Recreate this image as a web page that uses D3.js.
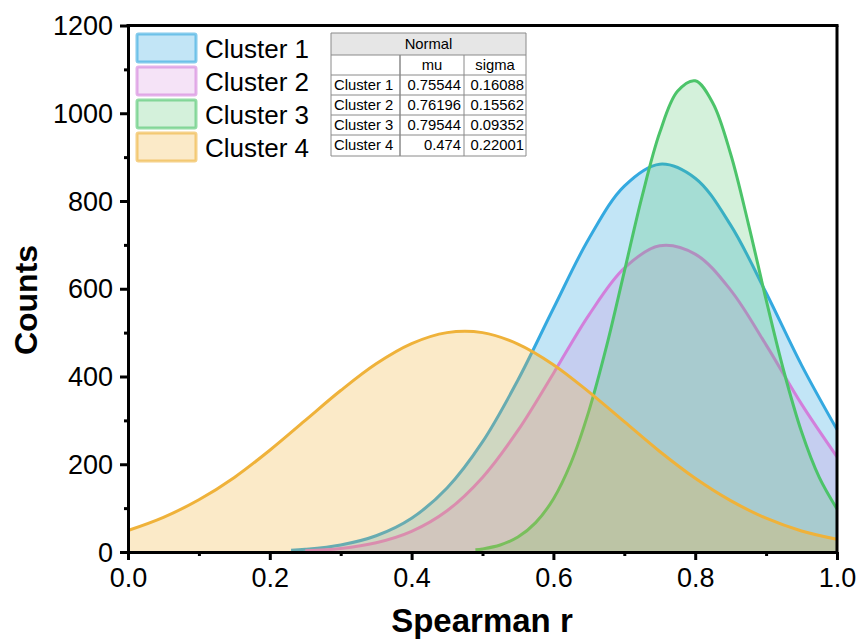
<!DOCTYPE html>
<html><head><meta charset="utf-8">
<script src="https://cdn.jsdelivr.net/npm/d3@7"></script>
<style>
body{margin:0;background:#fff;}
svg{display:block;font-family:"Liberation Sans",Arial,sans-serif;}
</style>
</head><body>
<svg id="c" width="862" height="643"></svg>
<script>
// ---- data ----
const seriesNames = ["Cluster 1", "Cluster 2", "Cluster 3", "Cluster 4"];

const c1X = [0.23,0.25,0.30,0.35,0.40,0.45,0.50,0.55,0.60,0.65,0.70,0.75,0.80,0.85,0.90,0.95,1.00];
const c1Y = [4,6,16,37,77,146,251,392,555,714,834,884,852,745,591,426,279];

const c2X = [0.25,0.30,0.35,0.40,0.45,0.50,0.55,0.60,0.65,0.70,0.75,0.80,0.85,0.90,0.95,1.00];
const c2Y = [3,8,21,47,94,170,277,407,540,647,698,679,597,472,337,217];

const c3X = [0.49,0.50,0.525,0.55,0.575,0.60,0.625,0.65,0.675,0.70,0.725,0.75,0.775,0.80,0.825,0.85,0.875,0.90,0.925,0.95,0.975,1.00];
const c3Y = [5,7,16,34,67,121,204,321,469,639,810,956,1050,1074,1023,907,748,575,412,274,170,98];

const c4X = [0.00,0.05,0.10,0.15,0.20,0.25,0.30,0.35,0.40,0.45,0.50,0.55,0.60,0.65,0.70,0.75,0.80,0.85,0.90,0.95,1.00];
const c4Y = [49,79,119,170,232,300,368,429,475,500,500,474,427,365,297,229,168,117,77,48,29];

const muValues = ["0.75544", "0.76196", "0.79544", "0.474"];
const sigmaValues = ["0.16088", "0.15562", "0.09352", "0.22001"];

const xTicks = [0, 0.2, 0.4, 0.6, 0.8, 1.0];
const xMinorTicks = [0.1, 0.3, 0.5, 0.7, 0.9];
const yTicks = [0, 200, 400, 600, 800, 1000, 1200];
const yMinorTicks = [100, 300, 500, 700, 900, 1100];

// ---- styles ----
const strokeColors = ["#34a9e0", "#d27fdb", "#4cc46a", "#efb23a"];
const fillOpacity = [0.30, 0.22, 0.24, 0.28];

const svg = d3.select("#c");
const x = d3.scaleLinear().domain([0, 1]).range([128, 837]);
const y = d3.scaleLinear().domain([0, 1200]).range([552, 25.5]);

const series = [
  {name: seriesNames[0], xs: c1X, ys: c1Y},
  {name: seriesNames[1], xs: c2X, ys: c2Y},
  {name: seriesNames[2], xs: c3X, ys: c3Y},
  {name: seriesNames[3], xs: c4X, ys: c4Y}
];

const curve = d3.curveCatmullRom.alpha(0.5);
const area = d3.area()
  .x(d => x(d[0])).y0(y(0)).y1(d => y(d[1]))
  .curve(curve);
const line = d3.line()
  .x(d => x(d[0])).y(d => y(d[1]))
  .curve(curve);

const plot = svg.append("g");
series.forEach((s, i) => {
  const pts = s.xs.map((v, j) => [v, s.ys[j]]);
  plot.append("path").attr("d", area(pts))
    .attr("fill", strokeColors[i]).attr("fill-opacity", fillOpacity[i]);
  plot.append("path").attr("d", line(pts))
    .attr("fill", "none").attr("stroke", strokeColors[i]).attr("stroke-width", 3);
});

// ---- axes ----
const xAxis = svg.append("g").attr("transform", `translate(0,${y(0)})`)
  .call(d3.axisBottom(x).tickValues(xTicks).tickSize(8).tickSizeOuter(0).tickPadding(7)
    .tickFormat(d3.format(".1f")));
const xMinor = svg.append("g").attr("transform", `translate(0,${y(0)})`)
  .call(d3.axisBottom(x).tickValues(xMinorTicks).tickSize(4).tickSizeOuter(0).tickFormat(""));
const yAxis = svg.append("g").attr("transform", `translate(${x(0)},0)`)
  .call(d3.axisLeft(y).tickValues(yTicks).tickSize(8).tickSizeOuter(0).tickPadding(7)
    .tickFormat(d3.format("d")));
const yMinor = svg.append("g").attr("transform", `translate(${x(0)},0)`)
  .call(d3.axisLeft(y).tickValues(yMinorTicks).tickSize(4).tickSizeOuter(0).tickFormat(""));

[xAxis, xMinor, yAxis, yMinor].forEach(g => {
  g.selectAll(".domain").attr("stroke", "#000").attr("stroke-width", 3);
  g.selectAll(".tick line").attr("stroke", "#000").attr("stroke-width", 3);
  g.selectAll(".tick text").attr("fill", "#000").attr("font-size", 27)
    .attr("font-family", "Liberation Sans, Arial, sans-serif");
});
xAxis.selectAll(".tick text").attr("dy", "0.75em");
yAxis.selectAll(".tick text").attr("dy", "0.34em");

// top and right frame
svg.append("line").attr("x1", x(0) - 1.5).attr("x2", x(1) + 1.5).attr("y1", y(1200)).attr("y2", y(1200))
  .attr("stroke", "#000").attr("stroke-width", 3);
svg.append("line").attr("x1", x(1)).attr("x2", x(1)).attr("y1", y(1200)).attr("y2", y(0) + 1.5)
  .attr("stroke", "#000").attr("stroke-width", 3);

// axis titles
svg.append("text").attr("x", 482).attr("y", 632).attr("text-anchor", "middle")
  .attr("font-size", 33).attr("font-weight", "bold").text("Spearman r");
svg.append("text").attr("transform", "translate(37,300) rotate(-90)").attr("text-anchor", "middle")
  .attr("font-size", 32).attr("font-weight", "bold").text("Counts");

// ---- legend ----
const leg = svg.append("g");
seriesNames.forEach((n, i) => {
  const ty = 34 + i * 33;
  leg.append("rect").attr("x", 137).attr("y", ty).attr("width", 59).attr("height", 28)
    .attr("rx", 1.5)
    .attr("fill", strokeColors[i]).attr("fill-opacity", fillOpacity[i])
    .attr("stroke", strokeColors[i]).attr("stroke-opacity", 0.6).attr("stroke-width", 3);
  leg.append("text").attr("x", 205).attr("y", ty + 24).attr("font-size", 26).attr("fill", "#000").text(n);
});

// ---- table ----
const tb = svg.append("g");
const tx0 = 331, tx1 = 400, tx2 = 464, tx3 = 526;
const rowTops = [33, 55, 75, 95, 115, 135, 156];
tb.append("rect").attr("x", tx0).attr("y", rowTops[0]).attr("width", tx3 - tx0).attr("height", rowTops[1] - rowTops[0])
  .attr("fill", "#e6e6e6");
tb.append("rect").attr("x", tx0).attr("y", rowTops[1]).attr("width", tx3 - tx0).attr("height", rowTops[6] - rowTops[1])
  .attr("fill", "#fff");
const gridC = "#8a8a8a";
rowTops.forEach(r => tb.append("line").attr("x1", tx0).attr("x2", tx3).attr("y1", r).attr("y2", r)
  .attr("stroke", gridC).attr("stroke-width", 1));
[tx0, tx3].forEach(c => tb.append("line").attr("x1", c).attr("x2", c).attr("y1", rowTops[0]).attr("y2", rowTops[6])
  .attr("stroke", gridC).attr("stroke-width", 1));
[tx1, tx2].forEach(c => tb.append("line").attr("x1", c).attr("x2", c).attr("y1", rowTops[1]).attr("y2", rowTops[6])
  .attr("stroke", gridC).attr("stroke-width", c === tx1 ? 1.5 : 1));
const fs = 14.8;
tb.append("text").attr("x", (tx0 + tx3) / 2).attr("y", rowTops[0] + 16).attr("text-anchor", "middle")
  .attr("font-size", fs).text("Normal");
tb.append("text").attr("x", (tx1 + tx2) / 2).attr("y", rowTops[1] + 15).attr("text-anchor", "middle")
  .attr("font-size", fs).text("mu");
tb.append("text").attr("x", (tx2 + tx3) / 2).attr("y", rowTops[1] + 15).attr("text-anchor", "middle")
  .attr("font-size", fs).text("sigma");
seriesNames.forEach((n, i) => {
  const by = rowTops[i + 2] + 15;
  tb.append("text").attr("x", tx0 + 3).attr("y", by).attr("font-size", fs).text(n);
  tb.append("text").attr("x", tx2 - 3).attr("y", by).attr("text-anchor", "end").attr("font-size", fs).text(muValues[i]);
  tb.append("text").attr("x", tx3 - 2).attr("y", by).attr("text-anchor", "end").attr("font-size", fs).text(sigmaValues[i]);
});
</script>
</body></html>
